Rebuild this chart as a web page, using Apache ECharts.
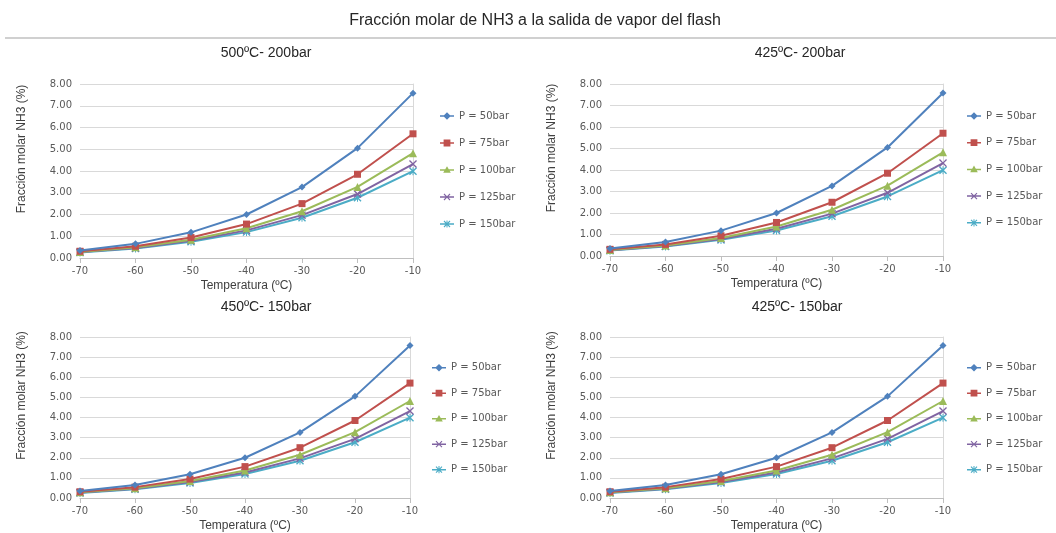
<!DOCTYPE html>
<html>
<head>
<meta charset="utf-8">
<script src="https://cdn.jsdelivr.net/npm/echarts@6/dist/echarts.min.js"></script>
<style>html,body{margin:0;padding:0;background:#fff}#c{width:1056px;height:533px}</style>
</head>
<body>
<div id="c"></div>
<script>
// ---- data ----
const mainTitle = 'Fracción molar de NH3 a la salida de vapor del flash';
const panelTitles = ['500ºC- 200bar', '425ºC- 200bar', '450ºC- 150bar', '425ºC- 150bar'];
const temps = [-70, -60, -50, -40, -30, -20, -10];
const seriesNames = ['P = 50bar', 'P = 75bar', 'P = 100bar', 'P = 125bar', 'P = 150bar'];
const p50  = [0.35, 0.65, 1.18, 2.00, 3.26, 5.05, 7.58];
const p75  = [0.31, 0.54, 0.94, 1.56, 2.50, 3.85, 5.71];
const p100 = [0.28, 0.49, 0.84, 1.37, 2.15, 3.27, 4.82];
const p125 = [0.27, 0.46, 0.79, 1.27, 1.97, 2.94, 4.32];
const p150 = [0.25, 0.44, 0.75, 1.19, 1.85, 2.77, 3.99];
const xAxisName = 'Temperatura (ºC)';
const yAxisName = 'Fracción molar NH3 (%)';
const xMin = -70, xMax = -10, xStep = 10;
const yMin = 0, yMax = 8, yStep = 1;

// ---- styles / layout ----
const values = [p50, p75, p100, p125, p150];
const colors = ['#4F81BD', '#C0504D', '#9BBB59', '#8064A2', '#4BACC6'];
const xPath = 'path://M0,1.2L1.2,0L5,3.8L8.8,0L10,1.2L6.2,5L10,8.8L8.8,10L5,6.2L1.2,10L0,8.8L3.8,5Z';
const starPath = 'path://M0,1.2L1.2,0L5,3.8L8.8,0L10,1.2L6.2,5L10,8.8L8.8,10L5,6.2L1.2,10L0,8.8L3.8,5Z M4.4,0L5.6,0L5.6,10L4.4,10Z';
const symbols = ['diamond', 'rect', 'triangle', xPath, starPath];
const symbolSizes = [7, 7, 8, 8, 8];

// legend icons: line + marker, in a 14x16 box (corner anchors fix the box)
const anchors = 'M0,0L0.01,0L0,0.01Z M14,16L13.99,16L14,15.99Z ';
const bar = 'M0,7.25L14,7.25L14,8.75L0,8.75Z ';
const legendMarks = [
  'M7,4.2L10.8,8L7,11.8L3.2,8Z',
  'M3.6,4.6L10.4,4.6L10.4,11.4L3.6,11.4Z',
  'M7,4.2L10.8,10.8L3.2,10.8Z',
  'M3.6,5.4L4.4,4.6L7,7.2L9.6,4.6L10.4,5.4L7.8,8L10.4,10.6L9.6,11.4L7,8.8L4.4,11.4L3.6,10.6L6.2,8Z',
  'M3.6,5.4L4.4,4.6L7,7.2L9.6,4.6L10.4,5.4L7.8,8L10.4,10.6L9.6,11.4L7,8.8L4.4,11.4L3.6,10.6L6.2,8Z M6.5,4.4L7.5,4.4L7.5,11.6L6.5,11.6Z'
];
const legendIcons = legendMarks.map(m => 'path://' + anchors + bar + m);

const panels = [
  { left: 80,  top: 84,  width: 333, height: 174, tx: 266, ty: 46,  lx: 440, ly: 108,   gap: 11 },
  { left: 610, top: 84,  width: 333, height: 172, tx: 800, ty: 46,  lx: 967, ly: 108,   gap: 10.7 },
  { left: 80,  top: 337, width: 330, height: 165, tx: 266, ty: 300, lx: 432, ly: 359.7, gap: 9.5 },
  { left: 610, top: 337, width: 333, height: 165, tx: 797, ty: 300, lx: 967, ly: 359.7, gap: 9.5 }
];
const tickFont = 'DejaVu Sans';
const textFont = 'Liberation Sans';

const option = {
  animation: false,
  backgroundColor: '#ffffff',
  title: [{
    text: mainTitle, left: 535, top: 13, textAlign: 'center', padding: 0,
    textStyle: { fontFamily: textFont, fontSize: 16, fontWeight: 'normal', color: '#262626' }
  }],
  graphic: [{
    type: 'line', shape: { x1: 5, y1: 38, x2: 1056, y2: 38 },
    style: { stroke: '#d0d0d0', lineWidth: 2 }
  }],
  grid: [], xAxis: [], yAxis: [], legend: [], series: []
};

panels.forEach((p, i) => {
  option.title.push({
    text: panelTitles[i], left: p.tx, top: p.ty, textAlign: 'center', padding: 0,
    textStyle: { fontFamily: textFont, fontSize: 14, fontWeight: 'normal', color: '#262626' }
  });
  option.grid.push({ left: p.left, top: p.top, width: p.width, height: p.height, containLabel: false });
  option.xAxis.push({
    type: 'value', gridIndex: i, min: xMin, max: xMax, interval: xStep,
    name: xAxisName, nameLocation: 'middle', nameGap: 22,
    nameTextStyle: { fontFamily: textFont, fontSize: 12, color: '#404040' },
    axisLine: { show: true, onZero: false, lineStyle: { color: '#bfbfbf', width: 1 } },
    axisTick: { show: true, length: 5, lineStyle: { color: '#bfbfbf' } },
    axisLabel: { fontFamily: tickFont, fontSize: 10, color: '#595959', margin: 8 },
    splitLine: { show: false }
  });
  option.yAxis.push({
    type: 'value', gridIndex: i, min: yMin, max: yMax, interval: yStep,
    name: yAxisName, nameLocation: 'middle', nameGap: 52,
    nameTextStyle: { fontFamily: textFont, fontSize: 12, color: '#404040', padding: [0, 0, 0, 44] },
    axisLine: { show: false }, axisTick: { show: false },
    axisLabel: { fontFamily: tickFont, fontSize: 10, color: '#595959', margin: 8,
      formatter: v => v.toFixed(2) },
    splitLine: { show: true, lineStyle: { color: '#d9d9d9', width: 1 } }
  });
  option.yAxis.push({
    type: 'value', gridIndex: i, position: 'right', min: yMin, max: yMax,
    axisLine: { show: true, lineStyle: { color: '#d9d9d9', width: 1 } },
    axisTick: { show: false }, axisLabel: { show: false }, splitLine: { show: false }
  });
  option.legend.push({
    orient: 'vertical', left: p.lx, top: p.ly, padding: 0,
    itemWidth: 14, itemHeight: 16, itemGap: p.gap,
    data: seriesNames.map((n, k) => ({ name: n, icon: legendIcons[k] })),
    textStyle: { fontFamily: tickFont, fontSize: 10, color: '#595959' }
  });
  seriesNames.forEach((n, k) => {
    option.series.push({
      type: 'line', name: n, xAxisIndex: i, yAxisIndex: i * 2,
      data: temps.map((t, j) => [t, values[k][j]]),
      symbol: symbols[k], symbolSize: symbolSizes[k], showAllSymbol: true,
      lineStyle: { color: colors[k], width: 2 },
      itemStyle: { color: colors[k] },
      z: 10 - k
    });
  });
});
const chart = echarts.init(document.getElementById('c'), null, { renderer: 'canvas' });
chart.setOption(option);
</script>
</body>
</html>
